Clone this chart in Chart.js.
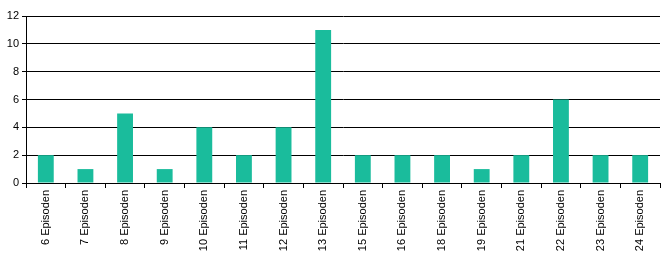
<!DOCTYPE html>
<html>
<head>
<meta charset="utf-8">
<script src="https://cdn.jsdelivr.net/npm/chart.js@4/dist/chart.umd.min.js"></script>
<style>
  html, body { margin: 0; padding: 0; background: #fff; }
  #wrap { width: 670px; height: 260px; }
</style>
</head>
<body>
<div id="wrap"><canvas id="chart" width="670" height="260"></canvas></div>
<script>
const categories = ['6 Episoden', '7 Episoden', '8 Episoden', '9 Episoden', '10 Episoden', '11 Episoden',
  '12 Episoden', '13 Episoden', '15 Episoden', '16 Episoden', '18 Episoden', '19 Episoden',
  '21 Episoden', '22 Episoden', '23 Episoden', '24 Episoden'];
const counts = [2, 1, 5, 1, 4, 2, 4, 11, 2, 2, 2, 1, 2, 6, 2, 2];
const yTicks = [0, 2, 4, 6, 8, 10, 12];

const ctx = document.getElementById('chart').getContext('2d');
new Chart(ctx, {
  type: 'bar',
  data: {
    labels: categories,
    datasets: [{
      data: counts,
      backgroundColor: '#1abc9c',
      barPercentage: 0.4,
      categoryPercentage: 1
    }]
  },
  options: {
    responsive: false,
    animation: false,
    layout: { padding: { top: 16, right: 10, left: 0, bottom: 0 } },
    plugins: { legend: { display: false }, tooltip: { enabled: false } },
    scales: {
      x: {
        grid: { drawOnChartArea: false, color: '#000', tickLength: 5, offset: true },
        border: { color: '#000' },
        ticks: {
          color: '#000',
          font: { family: 'Liberation Sans', size: 11 },
          minRotation: 90,
          maxRotation: 90,
          autoSkip: false,
          padding: 2
        },
        afterFit: function(scale) { scale.height = 77; }
      },
      y: {
        min: 0,
        max: 12,
        afterBuildTicks: function(scale) { scale.ticks = yTicks.map(v => ({ value: v })); },
        grid: { color: '#000', tickLength: 4 },
        border: { color: '#000' },
        ticks: {
          color: '#000',
          font: { family: 'Liberation Sans', size: 11 },
          padding: 3
        },
        afterFit: function(scale) { scale.width = 26; }
      }
    }
  }
});
</script>
</body>
</html>
